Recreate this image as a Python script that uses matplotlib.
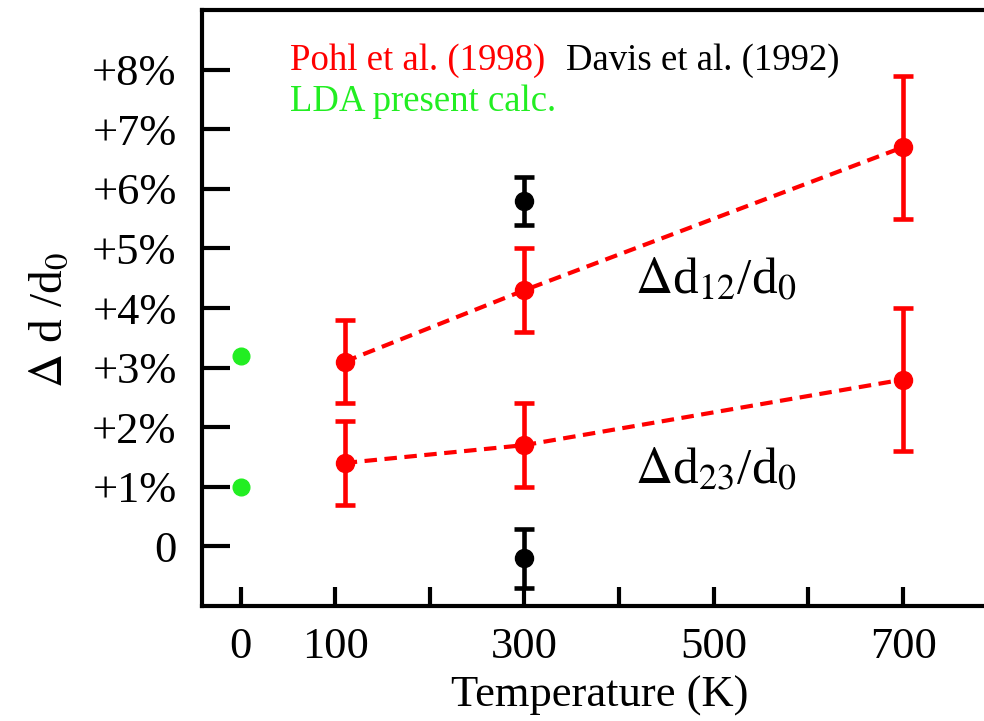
import matplotlib
matplotlib.use('Agg')
from matplotlib import pyplot as plt

# data (percent)
T_pohl = [110, 300, 700]
d12 = [3.1, 4.3, 6.7]
d12_err = [0.7, 0.7, 1.2]
d23 = [1.4, 1.7, 2.8]
d23_err = [0.7, 0.7, 1.2]

T_davis = [300, 300]
davis = [5.8, -0.2]
davis_err = [0.4, 0.5]

T_lda = [0, 0]
lda = [3.2, 1.0]

xticks = [0, 100, 200, 300, 400, 500, 600, 700]
xticklabels = ['0', '100', '', '300', '', '500', '', '700']
yticks = [0, 1, 2, 3, 4, 5, 6, 7, 8]
yticklabels = ['0'] + ['+%d%%' % v for v in yticks[1:]]

plt.rcParams['font.family'] = ['Liberation Serif', 'DejaVu Serif']
plt.rcParams['mathtext.fontset'] = 'stix'

fig = plt.figure(figsize=(9.84, 7.21), dpi=100)
ax = fig.add_axes([0.205, 0.1595, 0.809, 0.8265])
ax.set_xlim(-41, 800)
ax.set_ylim(-1, 9)

red = '#ff0000'
ekw = dict(fmt='o', ms=13, elinewidth=3.3, capsize=7, capthick=3.3)
for y, e in ((d12, d12_err), (d23, d23_err)):
    ax.plot(T_pohl, y, '--', color=red, lw=3, dashes=(3, 1.8))
    ax.errorbar(T_pohl, y, yerr=e, color=red, **ekw)
ax.errorbar(T_davis, davis, yerr=davis_err, color='black', **ekw)
ax.plot(T_lda, lda, 'o', color='#22ee22', ms=12, clip_on=False)

for s in ax.spines.values():
    s.set_linewidth(3)
ax.set_xticks(xticks)
ax.set_xticklabels(xticklabels)
ax.set_yticks(yticks)
ax.set_yticklabels(yticklabels)
ax.tick_params(axis='x', direction='in', length=14, width=3, labelsize=32, pad=15)
ax.tick_params(axis='y', direction='in', length=20, width=3, labelsize=32, pad=18)
ax.tick_params(right=False, top=False)

ax.set_xlabel('Temperature (K)', fontsize=32, labelpad=6)
ax.set_ylabel(r'$\Delta$ d /d$_0$', fontsize=34)
ax.yaxis.set_label_coords(-0.163, 0.48)

ax.text(52, 8.0, 'Pohl et al. (1998)', color=red, fontsize=26.5)
ax.text(344, 8.0, 'Davis et al. (1992)', color='black', fontsize=26.5)
ax.text(52, 7.3, 'LDA present calc.', color='#22ee22', fontsize=26.5)

ax.text(417, 4.25, r'$\Delta$d$_{12}$/d$_0$', fontsize=37)
ax.text(417, 1.05, r'$\Delta$d$_{23}$/d$_0$', fontsize=37)

fig.savefig('out.png', dpi=100)
